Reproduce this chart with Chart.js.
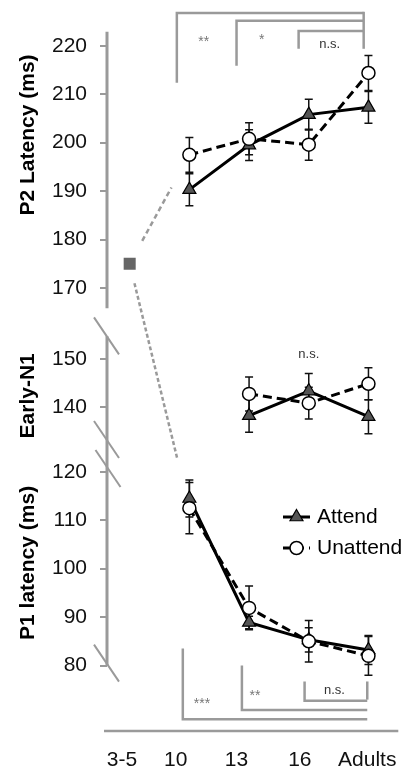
<!DOCTYPE html>
<html lang="en">
<head>
<meta charset="UTF-8">
<title>P1 / Early-N1 / P2 latency by age</title>
<script src="https://cdn.jsdelivr.net/npm/chart.js"></script>
<style>
  html, body { margin: 0; padding: 0; background: #fff; }
  .wrap { width: 407px; height: 772px; }
</style>
</head>
<body>
<div class="wrap"><canvas id="chart-latency"></canvas></div>
<script>
// age groups (x axis)
const groups = ['3-5', '10', '13', '16', 'Adults'];

// P2 latency (ms) for 10, 13, 16, Adults
const p2Attend      = [190.3, 199.5, 205.8, 207.3];
const p2AttendErr   = [3.3, 3.2, 3.2, 3.3];
const p2Unattend    = [197.5, 200.8, 199.6, 214.4];
const p2UnattendErr = [3.6, 3.3, 3.2, 3.6];

// Early-N1 (ms) for 13, 16, Adults
const n1Attend      = [138.3, 143.4, 138.1];
const n1AttendErr   = [3.4, 3.6, 3.5];
const n1Unattend    = [142.8, 140.9, 144.9];
const n1UnattendErr = [3.5, 3.3, 3.3];

// P1 latency (ms) for 10, 13, 16, Adults
const p1Attend      = [114.5, 88.9, 85.3, 83.2];
const p1AttendErr   = [3.8, 1.3, 2.5, 3.0];
const p1Unattend    = [112.5, 91.9, 85.0, 82.0];
const p1UnattendErr = [5.3, 4.5, 4.3, 4.0];

// 3-5 year olds (single value, on P2 scale)
const youngValue = [175];

// tick labels of the three broken y axis parts
const p2Ticks = [220, 210, 200, 190, 180, 170];
const n1Ticks = [150, 140];
const p1Ticks = [120, 110, 100, 90, 80];

// the three panels share one y scale; each panel is slid by a fixed amount
const shift = { p2: 0, n1: 5.3, p1: 12 };

const FONT = "'Liberation Sans', Arial, Helvetica, sans-serif";
const GREY = '#9a9a9a';

function pts(values, firstGroup, s) {
    return values.map((v, i) => ({ x: firstGroup + i, y: v + s }));
}

// y ticks: virtual value + shown text
const yTickVals = [], yTickText = [];
p2Ticks.forEach(t => { yTickVals.push(t + shift.p2); yTickText.push(String(t)); });
n1Ticks.forEach(t => { yTickVals.push(t + shift.n1); yTickText.push(String(t)); });
p1Ticks.forEach(t => { yTickVals.push(t + shift.p1); yTickText.push(String(t)); });

// x label nudge (labels sit a bit left of the points in the original)
const xLabelNudge = [-0.13, -0.23, -0.21, -0.15, -0.02];

function attendStyle(ds) {
    return Object.assign({
        borderColor: '#000', borderWidth: 3,
        pointStyle: 'triangle', pointRadius: 7.5,
        pointBackgroundColor: '#555', pointBorderColor: '#000', pointBorderWidth: 1.2,
        order: 2, tension: 0
    }, ds);
}
function unattendStyle(ds) {
    return Object.assign({
        borderColor: '#000', borderWidth: 3, borderDash: [9, 5],
        pointStyle: 'circle', pointRadius: 6.5,
        pointBackgroundColor: '#fff', pointBorderColor: '#000', pointBorderWidth: 1.5,
        order: 1, tension: 0
    }, ds);
}

const datasets = [
    attendStyle({ label: 'Attend', data: pts(p2Attend, 1, shift.p2), errors: p2AttendErr }),
    unattendStyle({ label: 'Unattend', data: pts(p2Unattend, 1, shift.p2), errors: p2UnattendErr }),
    attendStyle({ label: 'Attend N1', data: pts(n1Attend, 2, shift.n1), errors: n1AttendErr }),
    unattendStyle({ label: 'Unattend N1', data: pts(n1Unattend, 2, shift.n1), errors: n1UnattendErr }),
    attendStyle({ label: 'Attend P1', data: pts(p1Attend, 1, shift.p1), errors: p1AttendErr }),
    unattendStyle({ label: 'Unattend P1', data: pts(p1Unattend, 1, shift.p1), errors: p1UnattendErr }),
    {
        label: '3-5', data: pts(youngValue, 0, shift.p2), showLine: false,
        pointStyle: 'rect', pointRadius: 8.5, pointBackgroundColor: '#666', pointBorderColor: '#666',
        pointBorderWidth: 0, order: 0
    }
];

// significance brackets, x in group units, y in panel units
const topBrackets = {
    panel: 'p2', right: 3.92, rightEnd: 219.4,
    items: [
        { left: 0.79, bar: 226.8, legEnd: 212.4, text: '**',   tx: 1.24, ty: 220.8 },
        { left: 1.79, bar: 225.2, legEnd: 215.9, text: '*',    tx: 2.21, ty: 221.2 },
        { left: 2.83, bar: 223.1, legEnd: 219.4, text: 'n.s.', tx: 3.35, ty: 220.4 }
    ]
};
const bottomBrackets = {
    panel: 'p1', right: 3.98, rightEnd: 76.7,
    items: [
        { left: 0.89, bar: 68.9, legEnd: 83.5, text: '***',  tx: 1.21, ty: 72.0 },
        { left: 1.88, bar: 70.8, legEnd: 80.0, text: '**',   tx: 2.10, ty: 73.6 },
        { left: 2.93, bar: 72.7, legEnd: 76.7, text: 'n.s.', tx: 3.43, ty: 74.9 }
    ]
};

const errorBars = {
    id: 'errorBars',
    beforeDatasetsDraw(chart) {
        const ctx = chart.ctx, y = chart.scales.y;
        chart.data.datasets.forEach((ds, di) => {
            if (!ds.errors) return;
            const meta = chart.getDatasetMeta(di);
            ctx.save();
            ctx.strokeStyle = '#111';
            ctx.lineWidth = 1.5;
            meta.data.forEach((pt, i) => {
                const v = ds.data[i].y, e = ds.errors[i];
                const top = y.getPixelForValue(v + e), bot = y.getPixelForValue(v - e);
                ctx.beginPath();
                ctx.moveTo(pt.x, top); ctx.lineTo(pt.x, bot);
                ctx.moveTo(pt.x - 4, top); ctx.lineTo(pt.x + 4, top);
                ctx.moveTo(pt.x - 4, bot); ctx.lineTo(pt.x + 4, bot);
                ctx.stroke();
            });
            ctx.restore();
        });
    }
};

const decor = {
    id: 'decor',
    beforeDatasetsDraw(chart) {
        const ctx = chart.ctx, xs = chart.scales.x, ys = chart.scales.y;
        const X = v => xs.getPixelForValue(v);
        const Y = (v, p) => ys.getPixelForValue(v + shift[p]);
        const ax = chart.chartArea.left;

        ctx.save();
        ctx.strokeStyle = GREY;
        ctx.lineCap = 'butt';

        // broken y axis line
        ctx.lineWidth = 3;
        ctx.beginPath();
        ctx.moveTo(ax, Y(222.9, 'p2')); ctx.lineTo(ax, Y(165.8, 'p2'));
        ctx.moveTo(ax, Y(154.7, 'n1')); ctx.lineTo(ax, Y(80, 'p1'));
        ctx.stroke();

        // break marks
        ctx.lineWidth = 2;
        [Y(154.8, 'n1'), Y(133.4, 'n1'), Y(120.7, 'p1'), Y(80.5, 'p1')].forEach((cy, i) => {
            const dx = i === 2 ? 1.5 : 0;
            ctx.beginPath();
            ctx.moveTo(ax - 13 + dx, cy - 18.5);
            ctx.lineTo(ax + 12 + dx, cy + 18.5);
            ctx.stroke();
        });

        // x axis line
        ctx.lineWidth = 2.5;
        ctx.beginPath();
        ctx.moveTo(ax - 3, chart.chartArea.bottom);
        ctx.lineTo(chart.chartArea.right, chart.chartArea.bottom);
        ctx.stroke();

        // brackets
        ctx.lineWidth = 2.5;
        ctx.textAlign = 'center';
        ctx.textBaseline = 'middle';
        [topBrackets, bottomBrackets].forEach(b => {
            const xr = X(b.right);
            ctx.strokeStyle = GREY;
            b.items.forEach(it => {
                ctx.beginPath();
                ctx.moveTo(X(it.left), Y(it.legEnd, b.panel));
                ctx.lineTo(X(it.left), Y(it.bar, b.panel));
                ctx.lineTo(xr, Y(it.bar, b.panel));
                ctx.stroke();
            });
            const bars = b.items.map(it => Y(it.bar, b.panel));
            ctx.beginPath();
            ctx.moveTo(xr, Math.min(...bars) - 1.2);
            ctx.lineTo(xr, Y(b.rightEnd, b.panel));
            ctx.stroke();
            b.items.forEach(it => {
                ctx.fillStyle = it.text === 'n.s.' ? '#333' : '#777';
                ctx.font = (it.text === 'n.s.' ? '13px ' : '14px ') + FONT;
                ctx.fillText(it.text, X(it.tx), Y(it.ty, b.panel));
            });
        });
        ctx.fillStyle = '#333';
        ctx.font = '13px ' + FONT;
        ctx.fillText('n.s.', X(3.0), Y(150.9, 'n1'));

        // dashed connectors from the 3-5 square to the 10-year points
        const sq = chart.getDatasetMeta(6).data[0];
        const toP2 = chart.getDatasetMeta(1).data[0];
        const toP1 = chart.getDatasetMeta(5).data[0];
        function connector(target, t0, t1, dash) {
            const dx = target.x - sq.x, dy = target.y - sq.y;
            ctx.setLineDash(dash);
            ctx.lineWidth = 2.5;
            ctx.strokeStyle = GREY;
            ctx.beginPath();
            ctx.moveTo(sq.x + dx * t0, sq.y + dy * t0);
            ctx.lineTo(sq.x + dx * t1, sq.y + dy * t1);
            ctx.stroke();
        }
        connector(toP2, 0.21, 0.70, [5, 3.5]);
        connector(toP1, 0.08, 0.80, [4, 2.5]);
        ctx.setLineDash([]);

        // axis titles
        ctx.fillStyle = '#000';
        ctx.font = 'bold 21px ' + FONT;
        [['P2 Latency (ms)', Y(201.6, 'p2')], ['Early-N1', Y(142.4, 'n1')], ['P1 latency (ms)', Y(101.2, 'p1')]]
            .forEach(([txt, cy]) => {
                ctx.save();
                ctx.translate(28, cy);
                ctx.rotate(-Math.PI / 2);
                ctx.fillText(txt, 0, 0);
                ctx.restore();
            });
        ctx.restore();
    },
    afterDatasetsDraw(chart) {
        // legend
        const ctx = chart.ctx;
        const lx = 283, lw = 27;
        const rows = [
            { text: 'Attend', y: 517, dash: [], marker: 'triangle' },
            { text: 'Unattend', y: 548, dash: [8, 5], marker: 'circle' }
        ];
        ctx.save();
        rows.forEach(r => {
            ctx.strokeStyle = '#000';
            ctx.lineWidth = 3;
            ctx.setLineDash(r.dash);
            ctx.beginPath();
            ctx.moveTo(lx, r.y); ctx.lineTo(lx + lw, r.y);
            ctx.stroke();
            ctx.setLineDash([]);
            if (r.marker === 'triangle') {
                ctx.fillStyle = '#555';
                ctx.lineWidth = 1.2;
                Chart.helpers.drawPoint(ctx, { pointStyle: 'triangle', radius: 7.5, borderWidth: 1.2 }, lx + 13.5, r.y);
            } else {
                ctx.fillStyle = '#fff';
                ctx.lineWidth = 1.5;
                Chart.helpers.drawPoint(ctx, { pointStyle: 'circle', radius: 6.5, borderWidth: 1.5 }, lx + 13.5, r.y);
            }
            ctx.fillStyle = '#000';
            ctx.font = '21px ' + FONT;
            ctx.textAlign = 'left';
            ctx.textBaseline = 'middle';
            ctx.fillText(r.text, lx + 34, r.y);
        });
        ctx.restore();
    }
};

new Chart(document.getElementById('chart-latency'), {
    type: 'line',
    data: { datasets: datasets },
    options: {
        responsive: true,
        maintainAspectRatio: false,
        animation: false,
        layout: { padding: { left: 39, right: 8, top: 12, bottom: 0 } },
        plugins: { legend: { display: false }, tooltip: { enabled: false } },
        scales: {
            x: {
                type: 'linear', min: -0.38, max: 4.5,
                grid: { display: false, drawTicks: false },
                border: { display: false },
                afterBuildTicks: s => { s.ticks = groups.map((g, i) => ({ value: i + xLabelNudge[i] })); },
                afterFit: s => { s.paddingLeft = 0; s.paddingRight = 0; s.height = 41; },
                ticks: {
                    autoSkip: false, maxRotation: 0, padding: 17, color: '#111',
                    font: { family: FONT, size: 21 },
                    callback: (v, i) => groups[i]
                }
            },
            y: {
                type: 'linear', min: 78.47, max: 227.0,
                grid: { drawOnChartArea: false, drawTicks: true, tickLength: 7, color: GREY, lineWidth: 2 },
                border: { display: false },
                afterBuildTicks: s => { s.ticks = yTickVals.map(v => ({ value: v })); },
                afterFit: s => { s.paddingTop = 0; s.paddingBottom = 0; s.width = 68; },
                ticks: {
                    autoSkip: false, padding: 13, color: '#111',
                    font: { family: FONT, size: 21 },
                    callback: (v, i) => yTickText[i]
                }
            }
        }
    },
    plugins: [decor, errorBars]
});
</script>
</body>
</html>
